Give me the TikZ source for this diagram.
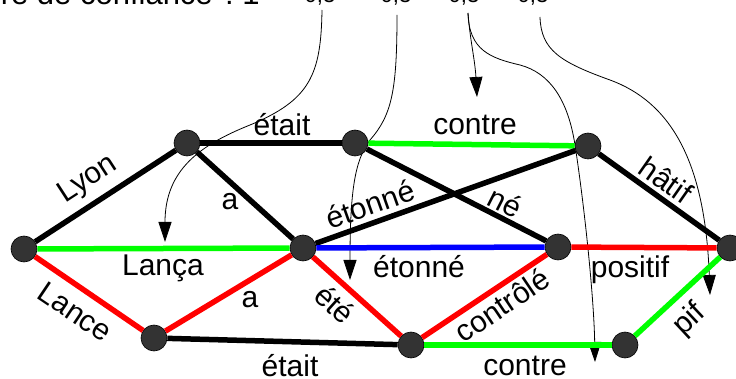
\documentclass[tikz,border=0pt]{standalone}
\usepackage{fontspec}
\setmainfont{Liberation Sans}
\usetikzlibrary{arrows.meta}
\definecolor{vert}{RGB}{0,255,0}
\definecolor{rouge}{RGB}{255,0,0}
\definecolor{bleu}{RGB}{0,0,255}
\definecolor{gris}{RGB}{51,51,51}
\pgfdeclarelayer{bg}
\pgfsetlayers{bg,main}
\begin{document}
\begin{tikzpicture}[x=1pt,y=-1pt,
  vtx/.style={circle,fill=gris,draw=black,line width=0.6pt,minimum size=26pt,inner sep=0pt},
  arete/.style={line width=5.5pt},
  noir/.style={arete,draw=black},
  vertl/.style={arete,draw=vert},
  rougel/.style={arete,draw=rouge},
  bleul/.style={arete,draw=bleu},
  lbl/.style={font=\fontsize{30}{36}\selectfont,inner sep=0pt},
  ttl/.style={font=\fontsize{31}{37}\selectfont,inner sep=0pt},
  num/.style={font=\fontsize{22}{26}\selectfont,inner sep=0pt,anchor=base},
  fleche/.style={line width=0.8pt,draw=black,-{Triangle[length=20pt,width=13pt]}}]
\useasboundingbox (0,0) rectangle (736,379);
% nodes
\node[vtx] (A) at (24,249) {};
\node[vtx] (B) at (187,143) {};
\node[vtx] (C) at (355,143) {};
\node[vtx] (D) at (588,146) {};
\node[vtx] (E) at (303,248) {};
\node[vtx] (F) at (558,247) {};
\node[vtx] (G) at (730,248) {};
\node[vtx] (H) at (154,338) {};
\node[vtx] (I) at (411,345) {};
\node[vtx] (J) at (625,345) {};
% edges
\draw[noir] (A) -- (B);
\draw[noir] (B) -- (C);
\draw[vertl] (C) -- (D);
\draw[noir] (D) -- (G);
\draw[noir] (B) -- (E);
\draw[noir] (C) -- (F);
\draw[noir] (E) -- (D);
\draw[vertl] (A) -- (E);
\draw[bleul] (E) -- (F);
\draw[rougel] (F) -- (G);
\draw[rougel] (A) -- (H);
\draw[rougel] (H) -- (E);
\draw[rougel] (E) -- (I);
\draw[rougel] (I) -- (F);
\draw[noir] (H) -- (I);
\draw[vertl] (I) -- (J);
\draw[vertl] (J) -- (G);
% labels
\node[lbl,rotate=33] (lLyon) at (88,180) {Lyon};
\node[lbl] (lEtait1) at (282,125) {était};
\node[lbl] (lContre1) at (475,125) {contre};
\node[lbl,rotate=-35] (lHatif) at (666,180) {hâtif};
\node[lbl] (lA1) at (230,202) {a};
\node[lbl,rotate=-27] (lNe) at (505,202) {né};
\node[lbl,rotate=19.5] (lEtonne1) at (370,204) {étonné};
\node[lbl] (lLanca) at (163,268) {Lança};
\node[lbl] (lEtonne2) at (419,267) {étonné};
\node[lbl] (lPositif) at (630,270) {positif};
\node[lbl,rotate=-34] (lLance) at (75,312) {Lance};
\node[lbl] (lA2) at (250,300) {a};
\node[lbl,rotate=-42] (lEte) at (335,304) {été};
\node[lbl,rotate=34] (lControle) at (502,305) {contrôlé};
\node[lbl] (lEtait2) at (290,366) {était};
\node[lbl] (lContre2) at (525,366) {contre};
\node[lbl,rotate=43] (lPif) at (690,320) {pif};
% title and confidence values
\node[ttl,anchor=base east] (titre) at (213,5) {Mesure de confiance};
\node[ttl,anchor=base west] (un) at (225,5) {:\ 1};
\node[num] (n1) at (320,3) {0,3};
\node[num] (n2) at (396,3) {0,3};
\node[num] (n3) at (464,3) {0,3};
\node[num] (n4) at (533,3) {0,3};
\coordinate (s1) at (322,10);
\coordinate (s2) at (397,15);
\coordinate (s3) at (468,13);
\coordinate (s4) at (540,17);
\coordinate (t1) at (165,242);
\coordinate (t2) at (350,280);
\coordinate (t3) at (477,97);
\coordinate (t3b) at (595,362);
\coordinate (t4) at (710,295);
\begin{pgfonlayer}{bg}
\draw[fleche] (s1) .. controls (321,75) and (310,100) .. (250,125) .. controls (200,145) and (165,170) .. (t1);
\draw[fleche] (s2) .. controls (397,90) and (392,115) .. (370,140) .. controls (355,160) and (350,190) .. (t2);
\draw[fleche] (s3) .. controls (470,40) and (475,60) .. (t3);
\draw[fleche] (s3) .. controls (469,50) and (490,58) .. (520,65) .. controls (550,73) and (568,100) .. (575,145) .. controls (585,210) and (594,300) .. (t3b);
\draw[fleche] (s4) .. controls (541,50) and (560,62) .. (610,80) .. controls (670,102) and (705,160) .. (t4);
\end{pgfonlayer}
\end{tikzpicture}
\end{document}
